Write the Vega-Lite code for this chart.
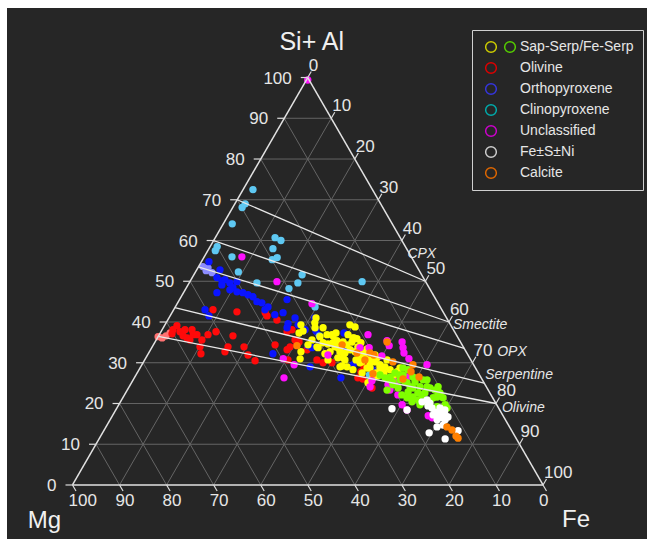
{
 "$schema": "https://vega.github.io/schema/vega-lite/v6.json",
 "width": 640,
 "height": 531,
 "autosize": {"type": "none"},
 "padding": {"left": 7, "top": 8, "right": 0, "bottom": 0},
 "background": "#ffffff",
 "config": {"view": {"fill": "#262626", "stroke": null}, "font": "Liberation Sans", "legend": {"rowPadding": 5, "clipHeight": 16}},
 "datasets": {
  "grid": [
   {"S":10,"F":0,"S2":10,"F2":90},{"S":20,"F":0,"S2":20,"F2":80},{"S":30,"F":0,"S2":30,"F2":70},{"S":40,"F":0,"S2":40,"F2":60},{"S":50,"F":0,"S2":50,"F2":50},{"S":60,"F":0,"S2":60,"F2":40},{"S":70,"F":0,"S2":70,"F2":30},{"S":80,"F":0,"S2":80,"F2":20},{"S":90,"F":0,"S2":90,"F2":10},
   {"S":0,"F":10,"S2":90,"F2":10},{"S":0,"F":20,"S2":80,"F2":20},{"S":0,"F":30,"S2":70,"F2":30},{"S":0,"F":40,"S2":60,"F2":40},{"S":0,"F":50,"S2":50,"F2":50},{"S":0,"F":60,"S2":40,"F2":60},{"S":0,"F":70,"S2":30,"F2":70},{"S":0,"F":80,"S2":20,"F2":80},{"S":0,"F":90,"S2":10,"F2":90},
   {"S":90,"F":0,"S2":0,"F2":90},{"S":80,"F":0,"S2":0,"F2":80},{"S":70,"F":0,"S2":0,"F2":70},{"S":60,"F":0,"S2":0,"F2":60},{"S":50,"F":0,"S2":0,"F2":50},{"S":40,"F":0,"S2":0,"F2":40},{"S":30,"F":0,"S2":0,"F2":30},{"S":20,"F":0,"S2":0,"F2":20},{"S":10,"F":0,"S2":0,"F2":10}
  ],
  "frame": [
   {"S":0,"F":0,"S2":0,"F2":100},{"S":0,"F":0,"S2":100,"F2":0},{"S":0,"F":100,"S2":100,"F2":0}
  ],
  "ties": [
   {"name":"CPX","S":70,"F":0,"S2":50,"F2":50},
   {"name":"Smectite","S":60,"F":0,"S2":40,"F2":60},
   {"name":"OPX","S":53.5,"F":0,"S2":33.5,"F2":66.5},
   {"name":"Serpentine","S":43.5,"F":0,"S2":25,"F2":75},
   {"name":"Olivine","S":36.5,"F":0,"S2":20,"F2":80}
  ],
  "corners": [
   {"name":"Si+ Al","S":100,"F":0},{"name":"Mg","S":0,"F":0},{"name":"Fe","S":0,"F":100}
  ],
  "ticks": [
   {"ax":"L","v":0,"S":0,"F":0},{"ax":"L","v":10,"S":10,"F":0},{"ax":"L","v":20,"S":20,"F":0},{"ax":"L","v":30,"S":30,"F":0},{"ax":"L","v":40,"S":40,"F":0},{"ax":"L","v":50,"S":50,"F":0},{"ax":"L","v":60,"S":60,"F":0},{"ax":"L","v":70,"S":70,"F":0},{"ax":"L","v":80,"S":80,"F":0},{"ax":"L","v":90,"S":90,"F":0},{"ax":"L","v":100,"S":100,"F":0},
   {"ax":"R","v":0,"S":100,"F":0},{"ax":"R","v":10,"S":90,"F":10},{"ax":"R","v":20,"S":80,"F":20},{"ax":"R","v":30,"S":70,"F":30},{"ax":"R","v":40,"S":60,"F":40},{"ax":"R","v":50,"S":50,"F":50},{"ax":"R","v":60,"S":40,"F":60},{"ax":"R","v":70,"S":30,"F":70},{"ax":"R","v":80,"S":20,"F":80},{"ax":"R","v":90,"S":10,"F":90},{"ax":"R","v":100,"S":0,"F":100},
   {"ax":"B","v":0,"S":0,"F":100},{"ax":"B","v":10,"S":0,"F":90},{"ax":"B","v":20,"S":0,"F":80},{"ax":"B","v":30,"S":0,"F":70},{"ax":"B","v":40,"S":0,"F":60},{"ax":"B","v":50,"S":0,"F":50},{"ax":"B","v":60,"S":0,"F":40},{"ax":"B","v":70,"S":0,"F":30},{"ax":"B","v":80,"S":0,"F":20},{"ax":"B","v":90,"S":0,"F":10},{"ax":"B","v":100,"S":0,"F":0}
  ],
  "pts": [
   {"c":"Olivine2","S":36.4,"F":0.0},{"c":"Olivine2","S":36.1,"F":1.0},{"c":"Olivine2","S":36.6,"F":1.6},{"c":"Olivine2","S":37.3,"F":2.1},
   {"c":"Olivine","S":38.1,"F":2.3},{"c":"Olivine","S":39.1,"F":2.65},{"c":"Olivine","S":37.1,"F":2.6},{"c":"Olivine","S":37.6,"F":4.05},{"c":"Olivine","S":36.6,"F":5.2},{"c":"Olivine","S":36.1,"F":6.3},{"c":"Olivine","S":38.1,"F":6.35},{"c":"Olivine","S":36.9,"F":7.2},{"c":"Olivine","S":35.6,"F":7.15},{"c":"Olivine","S":36.9,"F":8.0},{"c":"Olivine","S":35.6,"F":9.7},{"c":"Olivine","S":36.9,"F":10.35},{"c":"Olivine","S":37.6,"F":11.7},{"c":"Olivine","S":33.9,"F":10.15},{"c":"Olivine","S":32.2,"F":11.2},{"c":"Olivine","S":43.0,"F":8.36},{"c":"Olivine","S":42.5,"F":13.7},{"c":"Olivine","S":36.6,"F":15.8},{"c":"Olivine","S":33.9,"F":16.1},{"c":"Olivine","S":33.9,"F":19.5},{"c":"Olivine","S":31.9,"F":21.35},{"c":"Olivine","S":30.5,"F":23.55},{"c":"Olivine","S":42.3,"F":19.8},{"c":"Olivine","S":41.5,"F":20.6},{"c":"Olivine","S":40.5,"F":23.2},{"c":"Olivine","S":34.4,"F":25.85},{"c":"Olivine","S":33.2,"F":29.0},{"c":"Olivine","S":30.7,"F":30.45},{"c":"Olivine","S":38.1,"F":27.6},{"c":"Olivine","S":35.6,"F":29.5},{"c":"Olivine","S":34.4,"F":30.5},{"c":"Olivine","S":33.9,"F":29.3},{"c":"Olivine","S":35.1,"F":30.6},{"c":"Olivine","S":33.2,"F":33.25},{"c":"Olivine","S":37.6,"F":26.8},{"c":"Olivine","S":30.7,"F":36.6},{"c":"Olivine","S":30.0,"F":38.25},{"c":"Olivine","S":30.0,"F":40.15},{"c":"Olivine","S":31.4,"F":41.6},{"c":"Olivine","S":26.3,"F":47.5},{"c":"Olivine","S":26.0,"F":48.7},{"c":"Olivine","S":23.8,"F":51.75},{"c":"Olivine","S":29.2,"F":47.35},{"c":"Olivine","S":27.8,"F":47.4},{"c":"Olivine","S":32.7,"F":16.05},{"c":"Olivine","S":38.1,"F":4.85},
   {"c":"Opx2","S":53.6,"F":0.9},{"c":"Opx2","S":52.6,"F":2.1},{"c":"Opx2","S":52.1,"F":3.6},{"c":"Opx2","S":53.3,"F":2.15},
   {"c":"Orthopyroxene","S":54.8,"F":1.6},{"c":"Orthopyroxene","S":52.8,"F":4.95},{"c":"Orthopyroxene","S":50.9,"F":5.25},{"c":"Orthopyroxene","S":50.1,"F":6.7},{"c":"Orthopyroxene","S":50.4,"F":7.2},{"c":"Orthopyroxene","S":49.6,"F":8.65},{"c":"Orthopyroxene","S":49.9,"F":10.0},{"c":"Orthopyroxene","S":48.4,"F":9.9},{"c":"Orthopyroxene","S":49.1,"F":7.2},{"c":"Orthopyroxene","S":47.2,"F":7.1},{"c":"Orthopyroxene","S":47.9,"F":9.5},{"c":"Orthopyroxene","S":47.4,"F":11.25},{"c":"Orthopyroxene","S":47.2,"F":12.6},{"c":"Orthopyroxene","S":46.7,"F":13.95},{"c":"Orthopyroxene","S":46.2,"F":15.25},{"c":"Orthopyroxene","S":45.0,"F":16.7},{"c":"Orthopyroxene","S":44.7,"F":17.9},{"c":"Orthopyroxene","S":43.7,"F":19.7},{"c":"Orthopyroxene","S":43.0,"F":19.4},{"c":"Orthopyroxene","S":41.8,"F":22.1},{"c":"Orthopyroxene","S":42.3,"F":23.6},{"c":"Orthopyroxene","S":45.5,"F":22.85},{"c":"Orthopyroxene","S":43.0,"F":6.66},{"c":"Orthopyroxene","S":41.5,"F":8.25},{"c":"Orthopyroxene","S":39.6,"F":26.0},{"c":"Orthopyroxene","S":32.2,"F":26.5},{"c":"Orthopyroxene","S":39.3,"F":28.3},{"c":"Orthopyroxene","S":38.1,"F":30.4},{"c":"Orthopyroxene","S":41.0,"F":26.8},{"c":"Orthopyroxene","S":38.6,"F":26.3},{"c":"Orthopyroxene","S":37.8,"F":32.85},{"c":"Orthopyroxene","S":41.0,"F":31.0},{"c":"Orthopyroxene","S":37.3,"F":39.05},{"c":"Orthopyroxene","S":34.2,"F":32.95},{"c":"Orthopyroxene","S":33.7,"F":34.05},{"c":"Orthopyroxene","S":32.9,"F":43.6},{"c":"Orthopyroxene","S":29.5,"F":44.9},{"c":"Orthopyroxene","S":29.0,"F":36.0},{"c":"Orthopyroxene","S":26.3,"F":43.9},{"c":"Orthopyroxene","S":28.3,"F":49.5},{"c":"Orthopyroxene","S":27.8,"F":50.8},{"c":"Orthopyroxene","S":32.7,"F":41.55},
   {"c":"Clinopyroxene","S":72.5,"F":2.1},{"c":"Clinopyroxene","S":69.0,"F":2.2},{"c":"Clinopyroxene","S":68.1,"F":2.0},{"c":"Clinopyroxene","S":64.1,"F":1.9},{"c":"Clinopyroxene","S":58.5,"F":1.5},{"c":"Clinopyroxene","S":57.5,"F":1.6},{"c":"Clinopyroxene","S":56.0,"F":5.9},{"c":"Clinopyroxene","S":52.3,"F":9.1},{"c":"Clinopyroxene","S":60.7,"F":12.7},{"c":"Clinopyroxene","S":60.0,"F":14.3},{"c":"Clinopyroxene","S":58.0,"F":13.6},{"c":"Clinopyroxene","S":55.8,"F":15.6},{"c":"Clinopyroxene","S":55.3,"F":14.8},{"c":"Clinopyroxene","S":49.6,"F":14.4},{"c":"Clinopyroxene","S":51.6,"F":23.0},{"c":"Clinopyroxene","S":49.6,"F":23.1},{"c":"Clinopyroxene","S":48.2,"F":21.9},{"c":"Clinopyroxene","S":43.7,"F":29.7},{"c":"Clinopyroxene","S":49.9,"F":36.6},{"c":"Clinopyroxene","S":36.6,"F":34.2},{"c":"Clinopyroxene","S":27.0,"F":49.6},
   {"c":"Sap-Serp","S":41.0,"F":31.25},{"c":"Sap-Serp","S":39.8,"F":31.6},{"c":"Sap-Serp","S":39.3,"F":28.9},{"c":"Sap-Serp","S":37.8,"F":30.1},{"c":"Sap-Serp","S":37.3,"F":29.5},{"c":"Sap-Serp","S":38.6,"F":33.95},{"c":"Sap-Serp","S":36.9,"F":35.65},{"c":"Sap-Serp","S":36.9,"F":36.7},{"c":"Sap-Serp","S":37.3,"F":37.35},{"c":"Sap-Serp","S":39.3,"F":39.3},{"c":"Sap-Serp","S":38.8,"F":40.65},{"c":"Sap-Serp","S":36.9,"F":40.1},{"c":"Sap-Serp","S":35.1,"F":41.85},{"c":"Sap-Serp","S":35.9,"F":42.5},{"c":"Sap-Serp","S":34.4,"F":41.15},{"c":"Sap-Serp","S":34.9,"F":35.8},{"c":"Sap-Serp","S":34.6,"F":37.0},{"c":"Sap-Serp","S":34.9,"F":37.9},{"c":"Sap-Serp","S":33.7,"F":39.6},{"c":"Sap-Serp","S":32.7,"F":38.4},{"c":"Sap-Serp","S":32.2,"F":37.55},{"c":"Sap-Serp","S":31.2,"F":40.8},{"c":"Sap-Serp","S":30.7,"F":42.55},{"c":"Sap-Serp","S":29.0,"F":43.85},{"c":"Sap-Serp","S":29.2,"F":42.7},{"c":"Sap-Serp","S":31.4,"F":46.05},{"c":"Sap-Serp","S":33.4,"F":45.9},{"c":"Sap-Serp","S":30.7,"F":48.3},{"c":"Sap-Serp","S":30.2,"F":49.2},{"c":"Sap-Serp","S":30.2,"F":46.4},{"c":"Sap-Serp","S":28.7,"F":51.0},{"c":"Sap-Serp","S":27.5,"F":50.75},{"c":"Sap-Serp","S":27.5,"F":52.45},{"c":"Sap-Serp","S":32.7,"F":46.65},{"c":"Sap-Serp","S":32.7,"F":43.7},{"c":"Sap-Serp","S":33.7,"F":35.35},{"c":"Sap-Serp","S":30.7,"F":38.95},{"c":"Sap-Serp","S":32.7,"F":32.2},{"c":"Sap-Serp","S":36.4,"F":34.4},{"c":"Sap-Serp","S":35.6,"F":33.1},{"c":"Sap-Serp","S":34.4,"F":32.85},{"c":"Sap-Serp","S":32.4,"F":41.7},{"c":"Sap-Serp","S":33.9,"F":35.0},{"c":"Sap-Serp","S":34.9,"F":43.85},{"c":"Sap-Serp","S":33.9,"F":43.7},{"c":"Sap-Serp","S":26.3,"F":50.7},{"c":"Sap-Serp","S":30.96,"F":32.9},{"c":"Sap-Serp","S":29.0,"F":42.35},{"c":"Sap-Serp","S":28.3,"F":45.45},{"c":"Sap-Serp","S":27.5,"F":47.8},{"c":"Sap-Serp","S":28.7,"F":48.9},{"c":"Sap-Serp","S":25.1,"F":50.25},{"c":"Sap-Serp","S":31.2,"F":41.9},{"c":"Sap-Serp","S":36.6,"F":37.05},{"c":"Sap-Serp","S":35.4,"F":38.5},{"c":"Sap-Serp","S":36.1,"F":41.8},{"c":"Sap-Serp","S":33.9,"F":38.85},{"c":"Sap-Serp","S":35.1,"F":39.95},{"c":"Sap-Serp","S":31.4,"F":45.4},{"c":"Sap-Serp","S":31.9,"F":46.2},{"c":"Sap-Serp","S":31.2,"F":49.1},{"c":"Sap-Serp","S":29.5,"F":50.6},{"c":"Sap-Serp","S":29.0,"F":51.9},{"c":"Sap-Serp","S":28.3,"F":53.35},{"c":"Sap-Serp","S":27.8,"F":55.1},{"c":"Sap-Serp","S":28.7,"F":55.25},{"c":"Sap-Serp","S":30.0,"F":46.1},{"c":"Sap-Serp","S":28.7,"F":48.25},{"c":"Sap-Serp","S":27.8,"F":52.1},{"c":"Sap-Serp","S":32.4,"F":45.55},{"c":"Sap-Serp","S":31.4,"F":47.1},{"c":"Sap-Serp","S":31.9,"F":48.35},{"c":"Sap-Serp","S":30.0,"F":48.25},{"c":"Sap-Serp","S":30.7,"F":51.5},{"c":"Sap-Serp","S":36.1,"F":41.55},{"c":"Sap-Serp","S":38.6,"F":32.25},{"c":"Sap-Serp","S":32.7,"F":40.5},{"c":"Sap-Serp","S":33.2,"F":42.4},{"c":"Sap-Serp","S":30.7,"F":44.9},{"c":"Sap-Serp","S":26.5,"F":54.9},{"c":"Sap-Serp","S":26.8,"F":51.5},
   {"c":"Unclassified","S":99.4,"F":0.3},{"c":"Unclassified","S":56.0,"F":8.0},{"c":"Unclassified","S":49.9,"F":18.5},{"c":"Unclassified","S":44.5,"F":28.65},{"c":"Unclassified","S":36.9,"F":44.35},{"c":"Unclassified","S":35.4,"F":49.15},{"c":"Unclassified","S":34.2,"F":50.2},{"c":"Unclassified","S":35.1,"F":52.5},{"c":"Unclassified","S":33.7,"F":53.4},{"c":"Unclassified","S":32.4,"F":54.25},{"c":"Unclassified","S":31.0,"F":56.0},{"c":"Unclassified","S":29.5,"F":60.6},{"c":"Unclassified","S":33.7,"F":44.25},{"c":"Unclassified","S":31.7,"F":49.9},{"c":"Unclassified","S":26.3,"F":31.8},{"c":"Unclassified","S":31.0,"F":29.3},{"c":"Unclassified","S":29.5,"F":32.35},{"c":"Unclassified","S":31.9,"F":38.35},{"c":"Unclassified","S":25.6,"F":50.85},{"c":"Unclassified","S":25.3,"F":55.9},{"c":"Unclassified","S":23.3,"F":55.8},{"c":"Unclassified","S":22.1,"F":58.1},{"c":"Unclassified","S":19.7,"F":60.2},{"c":"Unclassified","S":18.4,"F":61.9},{"c":"Unclassified","S":17.0,"F":67.1},{"c":"Unclassified","S":16.5,"F":68.2},{"c":"Unclassified","S":24.1,"F":51.2},{"c":"Unclassified","S":24.6,"F":54.75},{"c":"Unclassified","S":33.7,"F":46.2},{"c":"Unclassified","S":26.5,"F":57.85},
   {"c":"Fe-Serp","S":26.3,"F":53.25},{"c":"Fe-Serp","S":25.8,"F":54.6},{"c":"Fe-Serp","S":25.3,"F":55.45},{"c":"Fe-Serp","S":27.0,"F":56.1},{"c":"Fe-Serp","S":25.8,"F":56.7},{"c":"Fe-Serp","S":27.0,"F":56.75},{"c":"Fe-Serp","S":25.3,"F":58.0},{"c":"Fe-Serp","S":25.1,"F":58.55},{"c":"Fe-Serp","S":24.6,"F":55.8},{"c":"Fe-Serp","S":24.1,"F":59.7},{"c":"Fe-Serp","S":26.5,"F":59.1},{"c":"Fe-Serp","S":25.3,"F":60.15},{"c":"Fe-Serp","S":24.1,"F":61.8},{"c":"Fe-Serp","S":25.8,"F":61.6},{"c":"Fe-Serp","S":25.8,"F":62.45},{"c":"Fe-Serp","S":24.1,"F":63.3},{"c":"Fe-Serp","S":23.8,"F":64.1},{"c":"Fe-Serp","S":23.3,"F":65.4},{"c":"Fe-Serp","S":22.85,"F":66.25},{"c":"Fe-Serp","S":23.8,"F":60.45},{"c":"Fe-Serp","S":22.6,"F":62.1},{"c":"Fe-Serp","S":22.6,"F":63.6},{"c":"Fe-Serp","S":21.4,"F":60.4},{"c":"Fe-Serp","S":21.6,"F":61.55},{"c":"Fe-Serp","S":20.9,"F":62.95},{"c":"Fe-Serp","S":22.1,"F":63.2},{"c":"Fe-Serp","S":20.4,"F":64.7},{"c":"Fe-Serp","S":23.8,"F":57.3},{"c":"Fe-Serp","S":22.85,"F":59.9},{"c":"Fe-Serp","S":19.7,"F":64.0},{"c":"Fe-Serp","S":20.4,"F":65.8},{"c":"Fe-Serp","S":21.6,"F":66.7},{"c":"Fe-Serp","S":19.2,"F":67.9},{"c":"Fe-Serp","S":19.7,"F":69.35},{"c":"Fe-Serp","S":21.4,"F":68.05},{"c":"Fe-Serp","S":22.6,"F":66.8},{"c":"Fe-Serp","S":21.4,"F":65.95},{"c":"Fe-Serp","S":24.1,"F":65.65},{"c":"Fe-Serp","S":23.3,"F":55.2},{"c":"Fe-Serp","S":20.4,"F":61.95},{"c":"Fe-Serp","S":26.5,"F":54.25},{"c":"Fe-Serp","S":22.1,"F":58.95},{"c":"Fe-Serp","S":18.9,"F":70.15},{"c":"Fe-Serp","S":28.7,"F":55.9},{"c":"Fe-Serp","S":28.3,"F":57.15},{"c":"Fe-Serp","S":27.0,"F":51.85},{"c":"Fe-Serp","S":27.5,"F":54.8},
   {"c":"Fe±S±Ni","S":18.7,"F":58.55},{"c":"Fe±S±Ni","S":18.4,"F":61.9},{"c":"Fe±S±Ni","S":20.4,"F":64.1},{"c":"Fe±S±Ni","S":20.9,"F":64.9},{"c":"Fe±S±Ni","S":20.1,"F":65.9},{"c":"Fe±S±Ni","S":18.9,"F":66.95},{"c":"Fe±S±Ni","S":17.9,"F":68.1},{"c":"Fe±S±Ni","S":17.2,"F":68.9},{"c":"Fe±S±Ni","S":17.7,"F":69.25},{"c":"Fe±S±Ni","S":18.4,"F":69.95},{"c":"Fe±S±Ni","S":17.2,"F":70.6},{"c":"Fe±S±Ni","S":16.7,"F":71.45},{"c":"Fe±S±Ni","S":16.7,"F":69.35},{"c":"Fe±S±Ni","S":17.2,"F":68.05},{"c":"Fe±S±Ni","S":16.5,"F":70.3},{"c":"Fe±S±Ni","S":16.0,"F":69.5},{"c":"Fe±S±Ni","S":16.0,"F":71.2},{"c":"Fe±S±Ni","S":14.25,"F":70.35},{"c":"Fe±S±Ni","S":14.7,"F":71.4},{"c":"Fe±S±Ni","S":12.8,"F":69.4},{"c":"Fe±S±Ni","S":11.3,"F":73.55},{"c":"Fe±S±Ni","S":13.3,"F":75.3},{"c":"Fe±S±Ni","S":19.4,"F":65.85},{"c":"Fe±S±Ni","S":18.9,"F":68.65},
   {"c":"Calcite","S":35.1,"F":49.3},{"c":"Calcite","S":30.7,"F":46.8},{"c":"Calcite","S":32.4,"F":47.0},{"c":"Calcite","S":30.2,"F":53.0},{"c":"Calcite","S":26.0,"F":57.25},{"c":"Calcite","S":29.5,"F":57.6},{"c":"Calcite","S":27.8,"F":58.05},{"c":"Calcite","S":26.5,"F":60.4},{"c":"Calcite","S":34.4,"F":40.1},{"c":"Calcite","S":31.9,"F":48.1},{"c":"Calcite","S":32.4,"F":44.25},{"c":"Calcite","S":34.2,"F":30.6},{"c":"Calcite","S":14.25,"F":72.45},{"c":"Calcite","S":13.5,"F":73.9},{"c":"Calcite","S":12.0,"F":75.5},{"c":"Calcite","S":11.5,"F":76.2},{"c":"Calcite","S":27.3,"F":50.2}
  ]
 },
 "encoding": {
  "x": {"field": "x", "type": "quantitative", "scale": {"domain": [-13.92, 122.1], "nice": false, "zero": false}, "axis": null},
  "y": {"field": "y", "type": "quantitative", "scale": {"domain": [-11.48, 101.38], "nice": false, "zero": false}, "axis": null}
 },
 "layer": [
  {
   "data": {"name": "grid"},
   "transform": [
    {"calculate": "datum.F + datum.S/2", "as": "x"}, {"calculate": "datum.S*0.8660254", "as": "y"},
    {"calculate": "datum.F2 + datum.S2/2", "as": "xe"}, {"calculate": "datum.S2*0.8660254", "as": "ye"}
   ],
   "mark": {"type": "rule", "color": "#656565", "strokeWidth": 1},
   "encoding": {"x2": {"field": "xe"}, "y2": {"field": "ye"}}
  },
  {
   "data": {"name": "pts"},
   "transform": [{"calculate": "datum.F + datum.S/2", "as": "x"}, {"calculate": "datum.S*0.8660254", "as": "y"}],
   "mark": {"type": "circle", "size": 54, "opacity": 1},
   "encoding": {
    "fill": {"field": "c", "type": "nominal",
     "scale": {"domain": ["Olivine2","Olivine","Opx2","Orthopyroxene","Clinopyroxene","Sap-Serp","Unclassified","Fe-Serp","Fe±S±Ni","Calcite"],
      "range": ["#ff7272","#ff0a0a","#8c8cff","#0a14ff","#5ec8f2","#ffff00","#ff10ff","#80ff00","#ffffff","#ff8000"]},
     "legend": null}
   }
  },
  {
   "data": {"name": "pts"},
   "transform": [{"filter": "datum.c == 'none'"}, {"calculate": "datum.F + datum.S/2", "as": "x"}, {"calculate": "datum.S*0.8660254", "as": "y"}],
   "mark": {"type": "point", "filled": false, "opacity": 1, "strokeWidth": 1.5, "size": 115},
   "encoding": {
    "stroke": {"field": "c", "type": "nominal",
     "scale": {"domain": ["Sap-Serp","Olivine","Orthopyroxene","Clinopyroxene","Unclassified","Fe±S±Ni","Calcite"],
      "range": ["#cccc00","#dd0000","#3535dd","#00aaaa","#cc00cc","#cccccc","#dd6600"]},
     "legend": {"title": null, "orient": "none", "legendX": 465, "legendY": 22,
      "labelExpr": "datum.label == 'Sap-Serp' ? 'Sap-Serp/Fe-Serp' : datum.label",
      "padding": 9, "strokeColor": "#d0d0d0", "fillColor": "#262626", "cornerRadius": 0,
      "symbolType": "circle", "symbolSize": 115, "symbolStrokeWidth": 1.5, "symbolFillColor": "transparent", "symbolOffset": 3,
      "labelOffset": 22, "labelFontSize": 14, "labelFont": "Liberation Sans", "labelColor": "#e6e6e6", "rowPadding": 5, "clipHeight": 16, "labelLimit": 300}}
   }
  },
  {
   "data": {"name": "pts"},
   "transform": [{"filter": "datum.c == 'none'"}, {"calculate": "datum.F + datum.S/2", "as": "x"}, {"calculate": "datum.S*0.8660254", "as": "y"}],
   "mark": {"type": "point", "filled": false, "opacity": 1, "strokeWidth": 1.5, "size": 115, "color": "#55cc00"},
   "encoding": {
    "shape": {"field": "c", "type": "nominal", "scale": {"domain": ["Fe-Serp"], "range": ["circle"]},
     "legend": {"title": null, "orient": "none", "legendX": 496, "legendY": 31, "padding": 0, "labelExpr": "''", "labelFontSize": 14,
      "symbolSize": 115, "symbolType": "circle", "symbolStrokeWidth": 1.5, "symbolStrokeColor": "#55cc00", "symbolFillColor": "transparent"}}
   }
  },
  {
   "data": {"name": "ties"},
   "transform": [
    {"calculate": "datum.F + datum.S/2", "as": "x"}, {"calculate": "datum.S*0.8660254", "as": "y"},
    {"calculate": "datum.F2 + datum.S2/2", "as": "xe"}, {"calculate": "datum.S2*0.8660254", "as": "ye"}
   ],
   "mark": {"type": "rule", "color": "#e8e8e8", "strokeWidth": 1.3},
   "encoding": {"x2": {"field": "xe"}, "y2": {"field": "ye"}}
  },
  {
   "data": {"name": "frame"},
   "transform": [
    {"calculate": "datum.F + datum.S/2", "as": "x"}, {"calculate": "datum.S*0.8660254", "as": "y"},
    {"calculate": "datum.F2 + datum.S2/2", "as": "xe"}, {"calculate": "datum.S2*0.8660254", "as": "ye"}
   ],
   "mark": {"type": "rule", "color": "#e2e2e2", "strokeWidth": 1.5},
   "encoding": {"x2": {"field": "xe"}, "y2": {"field": "ye"}}
  },
  {
   "data": {"name": "ticks"},
   "transform": [{"filter": "datum.ax == 'L'"}, {"calculate": "datum.F + datum.S/2", "as": "x"}, {"calculate": "datum.S*0.8660254", "as": "y"}],
   "mark": {"type": "rule", "color": "#dcdcdc", "strokeWidth": 1.2, "x2Offset": -7},
   "encoding": {"x2": {"field": "x"}, "y2": {"field": "y"}}
  },
  {
   "data": {"name": "ticks"},
   "transform": [{"filter": "datum.ax == 'R'"}, {"calculate": "datum.F + datum.S/2", "as": "x"}, {"calculate": "datum.S*0.8660254", "as": "y"}],
   "mark": {"type": "rule", "color": "#dcdcdc", "strokeWidth": 1.2, "x2Offset": 3.5, "y2Offset": -6},
   "encoding": {"x2": {"field": "x"}, "y2": {"field": "y"}}
  },
  {
   "data": {"name": "ticks"},
   "transform": [{"filter": "datum.ax == 'B'"}, {"calculate": "datum.F + datum.S/2", "as": "x"}, {"calculate": "datum.S*0.8660254", "as": "y"}],
   "mark": {"type": "rule", "color": "#dcdcdc", "strokeWidth": 1.2, "x2Offset": 3.5, "y2Offset": 6},
   "encoding": {"x2": {"field": "x"}, "y2": {"field": "y"}}
  },
  {
   "data": {"name": "ticks"},
   "transform": [{"filter": "datum.ax == 'L'"}, {"calculate": "datum.F + datum.S/2", "as": "x"}, {"calculate": "datum.S*0.8660254", "as": "y"}],
   "mark": {"type": "text", "align": "right", "baseline": "middle", "dx": -16, "dy": 1, "fontSize": 17, "color": "#e6e6e6", "font": "Liberation Sans"},
   "encoding": {"text": {"field": "v", "type": "nominal"}}
  },
  {
   "data": {"name": "ticks"},
   "transform": [{"filter": "datum.ax == 'R'"}, {"calculate": "datum.F + datum.S/2", "as": "x"}, {"calculate": "datum.S*0.8660254", "as": "y"}],
   "mark": {"type": "text", "align": "left", "baseline": "middle", "dx": 1, "dy": -12, "fontSize": 17, "color": "#e6e6e6", "font": "Liberation Sans"},
   "encoding": {"text": {"field": "v", "type": "nominal"}}
  },
  {
   "data": {"name": "ticks"},
   "transform": [{"filter": "datum.ax == 'B'"}, {"calculate": "datum.F + datum.S/2", "as": "x"}, {"calculate": "datum.S*0.8660254", "as": "y"}],
   "mark": {"type": "text", "align": "left", "baseline": "middle", "dx": -4, "dy": 16, "fontSize": 17, "color": "#e6e6e6", "font": "Liberation Sans"},
   "encoding": {"text": {"field": "v", "type": "nominal"}}
  },
  {
   "data": {"name": "corners"},
   "transform": [{"filter": "datum.name == 'Si+ Al'"}, {"calculate": "datum.F + datum.S/2", "as": "x"}, {"calculate": "datum.S*0.8660254", "as": "y"}],
   "mark": {"type": "text", "align": "center", "baseline": "middle", "dx": 4, "dy": -36, "fontSize": 25, "color": "#f0f0f0", "font": "Liberation Sans"},
   "encoding": {"text": {"field": "name", "type": "nominal"}}
  },
  {
   "data": {"name": "corners"},
   "transform": [{"filter": "datum.name == 'Mg'"}, {"calculate": "datum.F + datum.S/2", "as": "x"}, {"calculate": "datum.S*0.8660254", "as": "y"}],
   "mark": {"type": "text", "align": "center", "baseline": "alphabetic", "dx": -28, "dy": 43, "fontSize": 24, "color": "#f0f0f0", "font": "Liberation Sans"},
   "encoding": {"text": {"field": "name", "type": "nominal"}}
  },
  {
   "data": {"name": "corners"},
   "transform": [{"filter": "datum.name == 'Fe'"}, {"calculate": "datum.F + datum.S/2", "as": "x"}, {"calculate": "datum.S*0.8660254", "as": "y"}],
   "mark": {"type": "text", "align": "center", "baseline": "alphabetic", "dx": 33, "dy": 42, "fontSize": 24, "color": "#f0f0f0", "font": "Liberation Sans"},
   "encoding": {"text": {"field": "name", "type": "nominal"}}
  },
  {
   "data": {"name": "ties"},
   "transform": [{"filter": "datum.name == 'CPX'"}, {"calculate": "datum.F2 + datum.S2/2", "as": "x"}, {"calculate": "datum.S2*0.8660254", "as": "y"}],
   "mark": {"type": "text", "align": "left", "baseline": "middle", "dx": -18, "dy": -27, "fontSize": 14, "fontStyle": "italic", "color": "#e6e6e6", "font": "Liberation Sans"},
   "encoding": {"text": {"field": "name", "type": "nominal"}}
  },
  {
   "data": {"name": "ties"},
   "transform": [{"filter": "datum.name == 'Smectite'"}, {"calculate": "datum.F2 + datum.S2/2", "as": "x"}, {"calculate": "datum.S2*0.8660254", "as": "y"}],
   "mark": {"type": "text", "align": "left", "baseline": "middle", "dx": 4, "dy": 3, "fontSize": 14, "fontStyle": "italic", "color": "#e6e6e6", "font": "Liberation Sans"},
   "encoding": {"text": {"field": "name", "type": "nominal"}}
  },
  {
   "data": {"name": "ties"},
   "transform": [{"filter": "datum.name == 'OPX'"}, {"calculate": "datum.F2 + datum.S2/2", "as": "x"}, {"calculate": "datum.S2*0.8660254", "as": "y"}],
   "mark": {"type": "text", "align": "left", "baseline": "middle", "dx": 33, "dy": 4, "fontSize": 14, "fontStyle": "italic", "color": "#e6e6e6", "font": "Liberation Sans"},
   "encoding": {"text": {"field": "name", "type": "nominal"}}
  },
  {
   "data": {"name": "ties"},
   "transform": [{"filter": "datum.name == 'Serpentine'"}, {"calculate": "datum.F2 + datum.S2/2", "as": "x"}, {"calculate": "datum.S2*0.8660254", "as": "y"}],
   "mark": {"type": "text", "align": "left", "baseline": "middle", "dx": 1, "dy": -8, "fontSize": 14, "fontStyle": "italic", "color": "#e6e6e6", "font": "Liberation Sans"},
   "encoding": {"text": {"field": "name", "type": "nominal"}}
  },
  {
   "data": {"name": "ties"},
   "transform": [{"filter": "datum.name == 'Olivine'"}, {"calculate": "datum.F2 + datum.S2/2", "as": "x"}, {"calculate": "datum.S2*0.8660254", "as": "y"}],
   "mark": {"type": "text", "align": "left", "baseline": "middle", "dx": 6, "dy": 5, "fontSize": 14, "fontStyle": "italic", "color": "#e6e6e6", "font": "Liberation Sans"},
   "encoding": {"text": {"field": "name", "type": "nominal"}}
  }
 ]
}
